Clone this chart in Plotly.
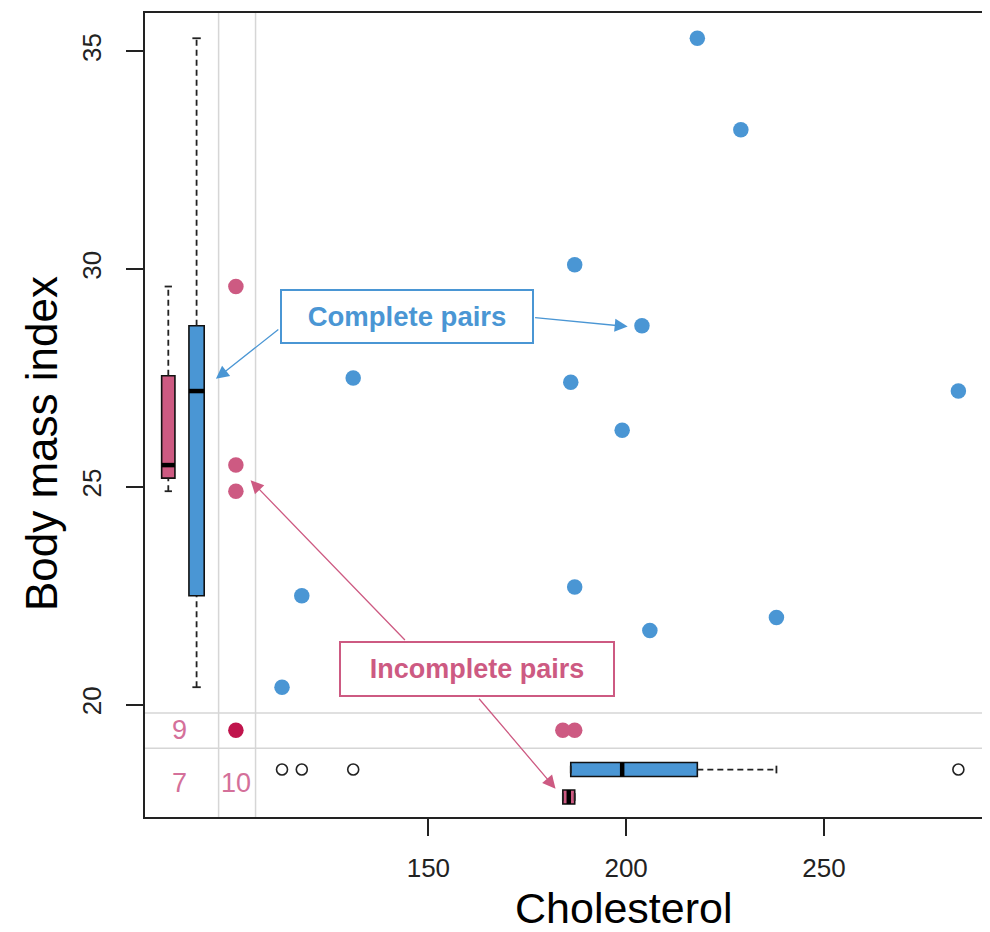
import math
import plotly.graph_objects as go

# ---------------- data (nhanes: BMI vs cholesterol) ----------------
chl_complete = [187, 113, 118, 187, 238, 206, 204, 284, 199, 218, 229, 131, 186]
bmi_complete = [22.7, 20.4, 22.5, 30.1, 22.0, 21.7, 28.7, 27.2, 26.3, 35.3, 33.2, 27.5, 27.4]
bmi_chl_missing = [29.6, 25.5, 24.9]     # bmi observed, chl missing
chl_bmi_missing = [187, 184]             # chl observed, bmi missing
n_both_missing = 7
n_bmi_missing = 9
n_chl_missing = 10
x_ticks = [150, 200, 250]
y_ticks = [20, 25, 30, 35]

# ---------------- styling / layout constants ----------------
BLUE = "#4A96D4"
PINK = "#CD5A82"
DARK = "#C0144C"
FONT = "Liberation Sans, Arial, sans-serif"
X_RANGE = [78.36, 290.73]
Y_RANGE = [17.42, 35.88]
X_MISS = 101.34          # column for missing chl
Y_MISS = 19.41           # row for missing bmi
X_GRID = [96.97, 106.31]
Y_GRID = [19.81, 19.0]


def fivenum(v):
    s = sorted(v)
    n = len(s)
    n4 = math.floor((n + 3) / 2) / 2
    d = [1, n4, (n + 1) / 2, n + 1 - n4, n]
    return [0.5 * (s[math.floor(k - 1)] + s[math.ceil(k - 1)]) for k in d]


def box_stats(v):
    _, q1, med, q3, _ = fivenum(v)
    iqr = q3 - q1
    lo, hi = q1 - 1.5 * iqr, q3 + 1.5 * iqr
    inside = [a for a in v if lo <= a <= hi]
    out = [a for a in v if a < lo or a > hi]
    return q1, med, q3, min(inside), max(inside), out


fig = go.Figure()


def add_box(values, pos, width, color, orient):
    q1, med, q3, wlo, whi, out = box_stats(values)
    sw = width * 0.55
    dash = dict(color="#222", width=1.8, dash="6px,4px")
    solid = dict(color="#222", width=1.8)

    def seg(a, b, p1, p2, line):
        if orient == "v":
            fig.add_trace(go.Scatter(x=[p1, p2], y=[a, b], mode="lines", line=line,
                                     hoverinfo="skip", showlegend=False))
        else:
            fig.add_trace(go.Scatter(x=[a, b], y=[p1, p2], mode="lines", line=line,
                                     hoverinfo="skip", showlegend=False))

    # whiskers (dashed) and staples
    seg(q3, whi, pos, pos, dash)
    seg(wlo, q1, pos, pos, dash)
    seg(whi, whi, pos - sw / 2, pos + sw / 2, solid)
    seg(wlo, wlo, pos - sw / 2, pos + sw / 2, solid)
    # box
    common = dict(q1=[q1], median=[med], q3=[q3], lowerfence=[q1], upperfence=[q3],
                  width=width, fillcolor=color, line=dict(color="#111", width=1.6),
                  whiskerwidth=0, boxpoints=False, hoverinfo="skip", showlegend=False)
    if orient == "v":
        fig.add_trace(go.Box(x=[pos], orientation="v", **common))
    else:
        fig.add_trace(go.Box(y=[pos], orientation="h", **common))
    # thick median
    seg(med, med, pos - width / 2, pos + width / 2, dict(color="black", width=4.5))
    # outliers
    if out:
        if orient == "v":
            xs, ys = [pos] * len(out), out
        else:
            xs, ys = out, [pos] * len(out)
        fig.add_trace(go.Scatter(x=xs, y=ys, mode="markers",
                                 marker=dict(symbol="circle-open", size=11,
                                             color="#222", line=dict(width=1.6)),
                                 hoverinfo="skip", showlegend=False))


# grid lines separating the missing-value margins
shapes = []
for gx in X_GRID:
    shapes.append(dict(type="line", xref="x", yref="paper", x0=gx, x1=gx, y0=0, y1=1,
                       line=dict(color="#D6D6D6", width=1.5), layer="below"))
for gy in Y_GRID:
    shapes.append(dict(type="line", xref="paper", yref="y", x0=0, x1=1, y0=gy, y1=gy,
                       line=dict(color="#D6D6D6", width=1.5), layer="below"))

# scatter points
fig.add_trace(go.Scatter(x=chl_complete, y=bmi_complete, mode="markers",
                         marker=dict(color=BLUE, size=15.5), hoverinfo="skip", showlegend=False))
fig.add_trace(go.Scatter(x=[X_MISS] * len(bmi_chl_missing), y=bmi_chl_missing, mode="markers",
                         marker=dict(color=PINK, size=15.5), hoverinfo="skip", showlegend=False))
fig.add_trace(go.Scatter(x=chl_bmi_missing, y=[Y_MISS] * len(chl_bmi_missing), mode="markers",
                         marker=dict(color=PINK, size=15.5), hoverinfo="skip", showlegend=False))
fig.add_trace(go.Scatter(x=[X_MISS], y=[Y_MISS], mode="markers",
                         marker=dict(color=DARK, size=15.5), hoverinfo="skip", showlegend=False))

# marginal boxplots
add_box(bmi_chl_missing, 84.25, 3.36, PINK, "v")
add_box(bmi_complete, 91.4, 3.86, BLUE, "v")
add_box(chl_complete, 18.51, 0.32, BLUE, "h")
add_box(chl_bmi_missing, 17.88, 0.32, PINK, "h")

annotations = []
# missing counts
for txt, ax_, ay_ in [(str(n_bmi_missing), 87.2, Y_MISS),
                      (str(n_both_missing), 87.2, 18.19),
                      (str(n_chl_missing), X_MISS, 18.19)]:
    annotations.append(dict(x=ax_, y=ay_, xref="x", yref="y", text=txt, showarrow=False,
                            font=dict(family=FONT, size=27, color="#D4709A"),
                            xanchor="center", yanchor="middle"))

# labelled boxes
annotations.append(dict(x=144.5, y=28.91, xref="x", yref="y", text="<b>Complete pairs</b>",
                        showarrow=False, font=dict(family=FONT, size=27.5, color=BLUE),
                        bgcolor="white", bordercolor=BLUE, borderwidth=2, borderpad=0,
                        width=250, height=51, xanchor="center", yanchor="middle"))
annotations.append(dict(x=162.4, y=20.81, xref="x", yref="y", text="<b>Incomplete pairs</b>",
                        showarrow=False, font=dict(family=FONT, size=27, color=PINK),
                        bgcolor="white", bordercolor=PINK, borderwidth=2, borderpad=0,
                        width=272, height=52, xanchor="center", yanchor="middle"))

# arrows (tail -> tip)
arrows = [
    (112.45, 28.64, 96.29, 27.48, BLUE),
    (176.6, 28.89, 200.4, 28.68, BLUE),
    (144.44, 21.45, 105.05, 25.15, PINK),
    (162.5, 20.17, 182.15, 18.07, PINK),
]
for tx, ty, hx, hy, col in arrows:
    annotations.append(dict(x=hx, y=hy, ax=tx, ay=ty, xref="x", yref="y", axref="x", ayref="y",
                            text="", showarrow=True, arrowhead=2, arrowsize=2,
                            arrowwidth=1.3, arrowcolor=col, standoff=0, startstandoff=0))

# axis titles
annotations.append(dict(x=0.5707, y=-0.113, xref="paper", yref="paper", text="Cholesterol",
                        showarrow=False, font=dict(family=FONT, size=43, color="black"),
                        xanchor="center", yanchor="middle"))
annotations.append(dict(x=-0.1225, y=0.464, xref="paper", yref="paper", text="Body mass index",
                        showarrow=False, textangle=-90,
                        font=dict(family=FONT, size=44, color="black"),
                        xanchor="center", yanchor="middle"))

axis_common = dict(showgrid=False, zeroline=False, showline=True, mirror=True,
                   linecolor="#222", linewidth=1.5, ticks="outside", ticklen=17,
                   tickwidth=1.5, tickcolor="#222",
                   tickfont=dict(family=FONT, size=26, color="#222"))

# the page body has an 8px margin, so the figure is sized to the visible area
fig.update_layout(
    width=982, height=924,
    margin=dict(l=137, r=4, t=3, b=115),
    paper_bgcolor="white", plot_bgcolor="white",
    xaxis=dict(range=X_RANGE, tickvals=x_ticks, ticklabelstandoff=10, **axis_common),
    yaxis=dict(range=Y_RANGE, tickvals=y_ticks, tickangle=-90, ticklabelstandoff=15,
               **axis_common),
    shapes=shapes, annotations=annotations, boxmode="overlay",
    font=dict(family=FONT),
)

fig.write_html("out.html")
